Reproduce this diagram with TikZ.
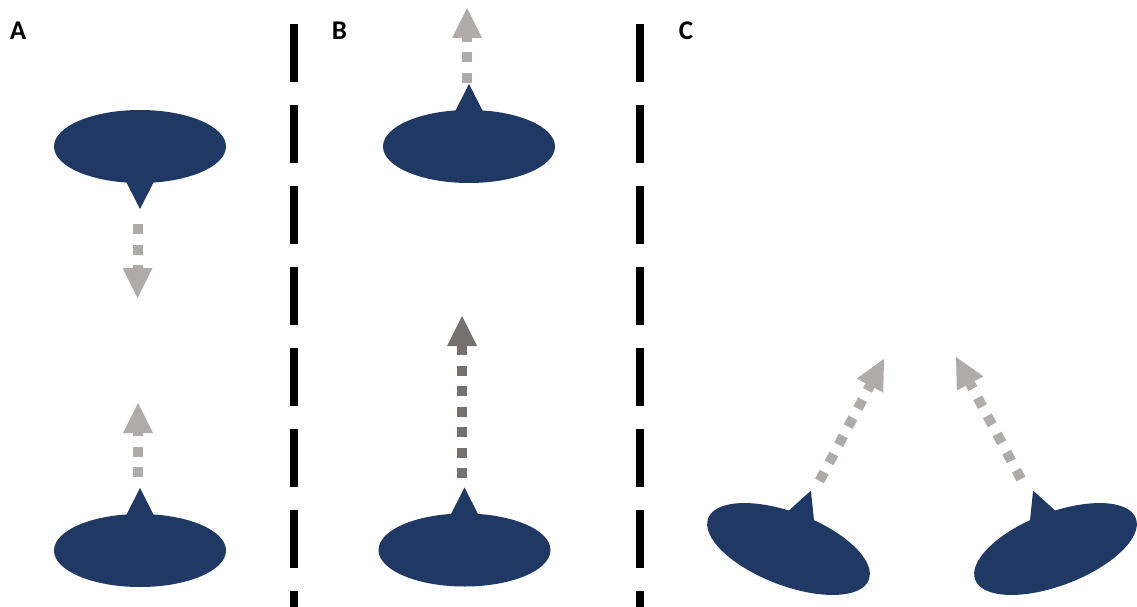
\documentclass[tikz,border=0pt]{standalone}
\usepackage{fontspec}
\setmainfont{Carlito}
\usetikzlibrary{arrows.meta}
\definecolor{navy}{HTML}{203864}
\definecolor{lgray}{HTML}{AFABAB}
\definecolor{dgray}{HTML}{767171}
\tikzset{
  cell/.pic={
    \fill[navy] (0,0) ellipse [x radius=86pt, y radius=36.5pt];
    \fill[navy] (-15,-33) -- (0,-62.5) -- (15,-33) -- cycle;
  },
  flow/.style={line width=10pt, dash pattern=on 10pt off 10.5pt,
    -{Triangle[length=30pt,width=30pt,line width=0pt]}},
  sepline/.style={line width=8pt, dash pattern=on 58pt off 23pt, black},
  lab/.style={font=\fontsize{27}{27}\selectfont\bfseries, inner sep=0pt, text=black},
}
\begin{document}
\begin{tikzpicture}[x=1pt,y=-1pt]
\useasboundingbox (0,0) rectangle (1137,607);
% separators
\coordinate (s1t) at (293.5,24);
\coordinate (s1b) at (293.5,620);
\coordinate (s2t) at (640,24);
\coordinate (s2b) at (640,620);
\draw[sepline] (s1t) -- (s1b);
\draw[sepline] (s2t) -- (s2b);
% labels
\node[lab] (la) at (18,30.5) {A};
\node[lab] (lb) at (339.5,30.5) {B};
\node[lab] (lc) at (686,30.5) {C};
% cells
\pic[rotate=180] at (140,146.5) {cell};
\pic at (140,550.5) {cell};
\pic at (469,146.5) {cell};
\pic at (464.5,550) {cell};
\pic[rotate=-21] at (788.5,549) {cell};
\pic[rotate=21] at (1055.5,549) {cell};
% arrows
\coordinate (a1s) at (137.5,224);
\coordinate (a1t) at (137.5,298);
\coordinate (a2s) at (138,477);
\coordinate (a2t) at (138,403);
\coordinate (b1s) at (467,83);
\coordinate (b1t) at (467,8);
\coordinate (b2s) at (462,478);
\coordinate (b2t) at (462,316);
\coordinate (c1s) at (819.5,481);
\coordinate (c1t) at (884,359);
\coordinate (c2s) at (1021,479);
\coordinate (c2t) at (956,357);
\draw[flow, lgray] (a1s) -- (a1t);
\draw[flow, lgray] (a2s) -- (a2t);
\draw[flow, lgray] (b1s) -- (b1t);
\draw[flow, dgray] (b2s) -- (b2t);
\draw[flow, lgray] (c1s) -- (c1t);
\draw[flow, lgray] (c2s) -- (c2t);
\end{tikzpicture}
\end{document}
